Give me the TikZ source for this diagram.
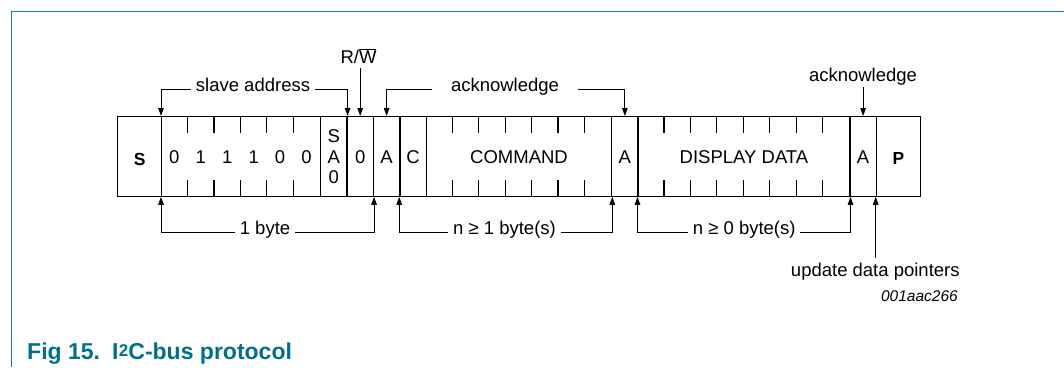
\documentclass[tikz,border=0pt]{standalone}
\usepackage{fontspec}
\setmainfont{Liberation Sans}
\usetikzlibrary{arrows.meta,calc}
\definecolor{capcol}{RGB}{0,112,140}
\definecolor{framecol}{RGB}{35,115,150}
\begin{document}
\begin{tikzpicture}[x=1pt,y=-1pt,
  txt/.style={font=\fontsize{18.5}{22}\selectfont, inner sep=0pt},
  btxt/.style={font=\fontsize{17.5}{20}\selectfont\bfseries, inner sep=0pt, anchor=base},
  field/.style={draw, line width=1.3pt, minimum height=79.5pt, inner sep=0pt, anchor=north west},
  tick/.style={line width=1.2pt},
  arr/.style={line width=1pt, -{Triangle[length=8pt,width=5.5pt]}},
  lbl/.style={txt, anchor=mid, inner xsep=4.5pt},
]
\useasboundingbox (0,0) rectangle (1064,367);
\def\u{26.47}
% frame
\draw[framecol, line width=1.5pt] (11.5,367) -- (11.5,11.5) -- (1064,11.5);

% fields
\node[field, minimum width=44pt]      (S)    at (117,116)    {};
\node[field, minimum width=158.82pt]  (addr) at (161,116)    {};
\node[field, minimum width=26.47pt]   (SA0)  at (319.82,116) {};
\node[field, minimum width=26.47pt]   (rw)   at (346.29,116) {};
\node[field, minimum width=26.47pt]   (ack1) at (372.76,116) {};
\node[field, minimum width=26.47pt]   (C)    at (399.23,116) {};
\node[field, minimum width=185.29pt]  (cmd)  at (425.70,116) {};
\node[field, minimum width=26.47pt]   (ack2) at (610.99,116) {};
\node[field, minimum width=211.76pt]  (data) at (637.46,116) {};
\node[field, minimum width=26.47pt]   (ack3) at (849.22,116) {};
\node[field, minimum width=44pt]      (P)    at (875.69,116) {};

% ticks
\foreach \k in {1,...,5}{
  \draw[tick] ($(addr.north west)+(\k*\u,0)$) -- ++(0,17);
  \draw[tick] ($(addr.south west)+(\k*\u,0)$) -- ++(0,-17);
}
\foreach \k in {1,...,6}{
  \draw[tick] ($(cmd.north west)+(\k*\u,0)$) -- ++(0,17);
  \draw[tick] ($(cmd.south west)+(\k*\u,0)$) -- ++(0,-17);
}
\foreach \k in {1,...,7}{
  \draw[tick] ($(data.north west)+(\k*\u,0)$) -- ++(0,17);
  \draw[tick] ($(data.south west)+(\k*\u,0)$) -- ++(0,-17);
}

% cell texts
\node[btxt] (tS) at (S.center |- 0,165) {S};
\node[btxt] (tP) at (P.center |- 0,164.5) {P};
\foreach \b [count=\k] in {0,1,1,1,0,0}{
  \node[txt, anchor=base] (bit\k) at ($(addr.north west)+(\k*\u-0.5*\u,47.3)$) {\b};
}
\node[txt, anchor=base] (sa1) at (SA0.center |- 0,142.7) {S};
\node[txt, anchor=base] (sa2) at (SA0.center |- 0,163.3) {A};
\node[txt, anchor=base] (sa3) at (SA0.center |- 0,183.3) {0};
\node[txt, anchor=base] (trw)  at (rw.center |- 0,163.3) {0};
\node[txt, anchor=base] (ta1)  at (ack1.center |- 0,163.3) {A};
\node[txt, anchor=base] (tC)   at (C.center |- 0,163.3) {C};
\node[txt, anchor=base] (tcmd) at (cmd.center |- 0,163.3) {COMMAND};
\node[txt, anchor=base] (ta2)  at (ack2.center |- 0,163.3) {A};
\node[txt, anchor=base] (tdat) at (data.center |- 0,163.3) {DISPLAY DATA};
\node[txt, anchor=base] (ta3)  at (ack3.center |- 0,163.3) {A};

% upper labels
\node[lbl] (slave) at (253,89.3) {slave address};
\draw[arr] (slave.mid west) -| (addr.north west);
\draw[arr] (slave.mid east) -| (SA0.north east);

\node[txt, anchor=base] (rwl) at (358.5,63.3) {R/$\overline{\hbox{W}}$};
\draw[arr] ([yshift=-4.5pt]rwl.south -| rw.north) -- (rw.north);

\node[lbl, inner xsep=19pt] (ackl) at (505,89.3) {acknowledge};
\draw[arr] (ackl.mid west) -| (ack1.north);
\draw[arr] (ackl.mid east) -| (ack2.north);

\node[txt, anchor=base] (ackr) at (863,81) {acknowledge};
\draw[arr] ([yshift=-2pt]ackr.south -| ack3.north) -- (ack3.north);

% lower labels
\node[lbl] (byte1) at (265,232.3) {1 byte};
\draw[arr] (byte1.mid west) -| (addr.south west);
\draw[arr] (byte1.mid east) -| (rw.south east);

\node[lbl] (nb1) at (504.5,232.3) {n ≥ 1 byte(s)};
\draw[arr] (nb1.mid west) -| (C.south west);
\draw[arr] (nb1.mid east) -| (cmd.south east);

\node[lbl] (nb0) at (744.2,232.3) {n ≥ 0 byte(s)};
\draw[arr] (nb0.mid west) -| (data.south west);
\draw[arr] (nb0.mid east) -| (data.south east);

\node[txt, anchor=base] (upd) at (875.3,276) {update data pointers};
\draw[arr] ([yshift=4.7pt]upd.north -| P.south west) -- (P.south west);

\node[font=\fontsize{15.5}{18}\selectfont\itshape, inner sep=0pt, anchor=base east] (code) at (958,301) {001aac266};

% caption
\node[font=\fontsize{23}{26}\selectfont\bfseries, text=capcol, inner sep=0pt, anchor=base west] (cap) at (27,359.3)
  {Fig 15.\hspace{3.5pt} I\kern0.5pt\raisebox{2.6pt}{\fontsize{17}{17}\selectfont 2}C-bus protocol};
\end{tikzpicture}
\end{document}
